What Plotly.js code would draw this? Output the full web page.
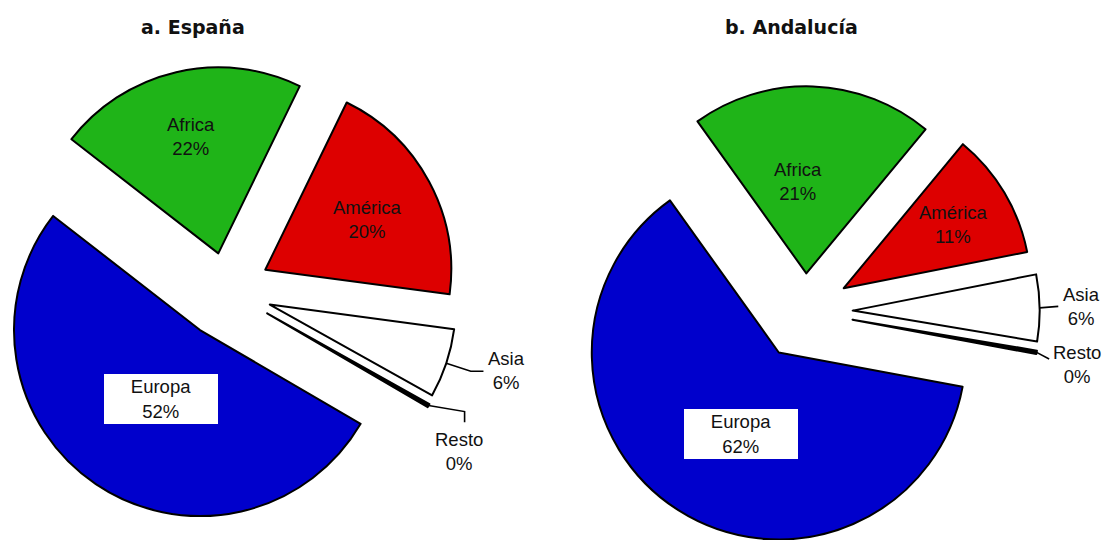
<!DOCTYPE html>
<html><head><meta charset="utf-8">
<script src="https://cdn.plot.ly/plotly-3.0.1.min.js"></script>
<style>
html,body{margin:0;padding:0;overflow:hidden;background:#fff;width:1105px;height:540px;}
#wrap{position:absolute;left:0;top:0;width:1105px;height:540px;overflow:hidden;}
#chart{position:absolute;left:-40px;top:0;width:1200px;height:600px;}
</style></head><body>
<div id="wrap"><div id="chart"></div></div>
<script>
// ---- data ----
const regions = ['Africa', 'América', 'Asia', 'Resto', 'Europa'];
const espanaValues = [21.7, 19.9, 6, 0.3, 52.1];
const andaluciaValues = [20.9, 10.9, 5.75, 0.3, 62.2];
const chartTitles = ['a. España', 'b. Andalucía'];

// ---- style / layout ----
const sliceColors = ['#1FB418', '#DD0000', '#FFFFFF', '#000000', '#0000CC'];
const W = 1200, H = 600, OX = 40;
const labelFont = {family: 'Liberation Sans, Arial, sans-serif', size: 18.5, color: '#111'};
const titleFont = {family: 'DejaVu Sans, sans-serif', size: 19, color: '#111', weight: 'bold'};

const pies = [
  {values: espanaValues, title: chartTitles[0], cx: 226.9, cy: 290.3, r: 186, start: 142.15,
   pull: [0.204, 0.234, 0.243, 0.249, 0.258], titleX: 193, titleY: 26.5,
   inside: {'Africa': [0.643, 0.1], 'América': [0.61, -2.2], 'Europa': [0.426, 4.6]},
   outside: {'Asia': {path: [[24.5, 8], [12.7, 0]], text: [23.3, -1.3]},
             'Resto': {path: [[36, 6], [0, 10.6]], text: [-5.3, 29.2]}}},
  {values: andaluciaValues, title: chartTitles[1], cx: 805.0, cy: 311.3, r: 187, start: 125.6,
   pull: [0.203, 0.241, 0.255, 0.258, 0.261], titleX: 791, titleY: 26.5,
   inside: {'Africa': [0.496, 7.4], 'América': [0.679, -0.7], 'Europa': [0.481, 7.7]},
   outside: {'Asia': {path: [[18.6, -1.5]], text: [23.2, 0]},
             'Resto': {path: [[12.5, 6.7]], text: [27.7, 5]}}}
];

const px = x => (x + OX) / W;
const py = y => 1 - y / H;
const traces = [], annotations = [], shapes = [];

pies.forEach(p => {
  const maxPull = Math.max(...p.pull);
  const half = p.r * (1 + maxPull);
  traces.push({
    type: 'pie', labels: regions, values: p.values, sort: false, direction: 'clockwise',
    rotation: 90 - p.start, pull: p.pull,
    marker: {colors: sliceColors, line: {color: '#000', width: 2}},
    textinfo: 'none', hoverinfo: 'label+percent', showlegend: false,
    domain: {x: [px(p.cx - half), px(p.cx + half)], y: [py(p.cy + half), py(p.cy - half)]}
  });
  annotations.push({xref: 'paper', yref: 'paper', x: px(p.titleX), y: py(p.titleY),
    xanchor: 'center', yanchor: 'middle', showarrow: false, text: p.title, font: titleFont});

  const total = p.values.reduce((s, v) => s + v, 0);
  let a = p.start;
  regions.forEach((name, i) => {
    const span = 360 * p.values[i] / total;
    const bis = a - span / 2;
    a -= span;
    const rad = bis * Math.PI / 180;
    const apx = p.cx + p.pull[i] * p.r * Math.cos(rad);
    const apy = p.cy - p.pull[i] * p.r * Math.sin(rad);
    const txt = name + '<br>' + Math.round(100 * p.values[i] / total) + '%';
    if (p.inside[name]) {
      const [rho, dA] = p.inside[name];
      const r2 = (bis + dA) * Math.PI / 180;
      const lx = apx + rho * p.r * Math.cos(r2), ly = apy - rho * p.r * Math.sin(r2);
      const ann = {xref: 'paper', yref: 'paper', x: px(lx), y: py(ly), xanchor: 'center',
        yanchor: 'middle', showarrow: false, text: txt, font: labelFont, align: 'center'};
      if (name === 'Europa') {
        Object.assign(ann, {bgcolor: '#FFFFFF', width: 114, height: 50, borderpad: 0, borderwidth: 0});
      }
      annotations.push(ann);
    } else if (p.outside[name]) {
      const o = p.outside[name];
      let sx = apx + p.r * Math.cos(rad), sy = apy - p.r * Math.sin(rad);
      let d = 'M ' + px(sx) + ' ' + py(sy);
      o.path.forEach(([dx, dy]) => { sx += dx; sy += dy; d += ' L ' + px(sx) + ' ' + py(sy); });
      shapes.push({type: 'path', xref: 'paper', yref: 'paper', path: d,
        line: {color: '#000', width: 1.6}});
      annotations.push({xref: 'paper', yref: 'paper', x: px(sx + o.text[0]), y: py(sy + o.text[1]),
        xanchor: 'center', yanchor: 'middle', showarrow: false, text: txt, font: labelFont, align: 'center'});
    }
  });
});

Plotly.newPlot('chart', traces, {
  width: W, height: H, margin: {l: 0, r: 0, t: 0, b: 0},
  paper_bgcolor: '#FFFFFF', plot_bgcolor: '#FFFFFF', showlegend: false,
  annotations: annotations, shapes: shapes
}, {displayModeBar: false, staticPlot: true});
</script>
</body></html>
